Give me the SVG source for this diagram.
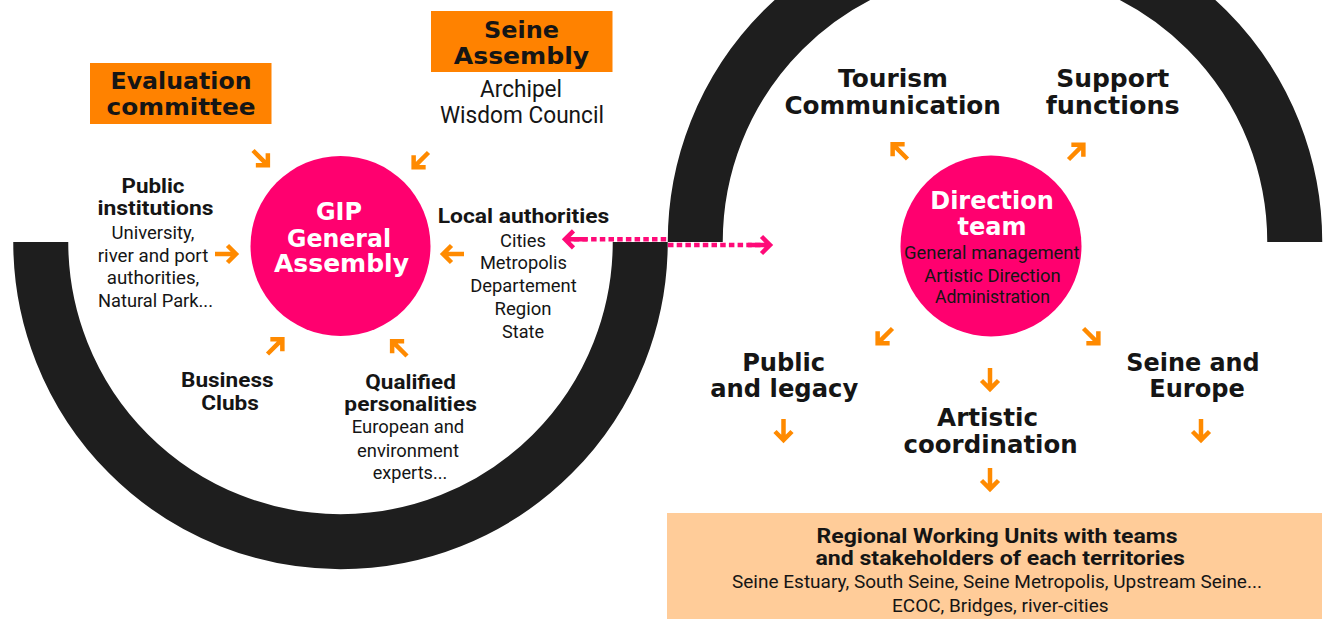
<svg xmlns="http://www.w3.org/2000/svg" xmlns:xlink="http://www.w3.org/1999/xlink" width="1328" height="619" viewBox="0 0 1328 619">
  <style>
    text { text-anchor: middle; fill: #151515; }
    .hw { font-family: "DejaVu Sans", "Liberation Sans", sans-serif; font-weight: 700; font-size: 24px; }
    .hw.big { font-size: 23.5px; }
    .hm { font-family: Roboto, "Liberation Sans", sans-serif; font-weight: 700; font-size: 21px; }
    .rg { font-family: Roboto, "Liberation Sans", sans-serif; font-weight: 400; font-size: 18px; }
    .rg.lg { font-size: 23px; }
    .rg.sm { font-size: 17.5px; }
    .wt { fill: #ffffff; }
    .ring { fill: none; stroke: #1e1e1e; stroke-width: 55; }
    .hub { fill: #ff006f; }
    .tag { fill: #ff8200; }
    .band { fill: #ffcc99; }
    .arrow { fill: none; stroke: #ff8a00; stroke-width: 4.5; stroke-linejoin: miter; }
    .link { fill: none; stroke: #ff0a78; stroke-width: 4.5; stroke-dasharray: 5.5 3.2; }
  </style>
  <defs>
    <!-- short orange arrow pointing to +x, centred on the origin -->
    <path id="arw" class="arrow" d="M-12,0 H8 M0.5,-8.5 L9,0 L0.5,8.5"/>
    <marker id="pinkTip" viewBox="-28 -14 34 28" refX="0" refY="0" markerWidth="34" markerHeight="28" markerUnits="userSpaceOnUse" orient="auto-start-reverse" overflow="visible">
      <path d="M-8.5,-8.5 L0,0 L-8.5,8.5 M0,0 H-22" fill="none" stroke="#ff0a78" stroke-width="4.5"/>
    </marker>
  </defs>

  <rect width="1328" height="619" fill="#ffffff"/>

  <!-- the two half rings -->
  <g id="rings">
    <path class="ring" d="M40.75,242 A299.75,299.75 0 0 0 640.25,242"/>
    <path class="ring" d="M695.25,242 A299.75,299.75 0 0 1 1294.75,242"/>
  </g>

  <!-- governance side -->
  <g id="gip-general-assembly">
    <circle class="hub" cx="340.5" cy="246" r="90"/>
    <text class="hw wt" x="339" y="220" textLength="46" lengthAdjust="spacingAndGlyphs">GIP</text>
    <text class="hw wt" x="339" y="246.5" textLength="104" lengthAdjust="spacingAndGlyphs">General</text>
    <text class="hw wt" x="341.5" y="272" textLength="135" lengthAdjust="spacingAndGlyphs">Assembly</text>
  </g>

  <g id="evaluation-committee">
    <rect class="tag" x="90" y="63" width="181.5" height="61"/>
    <text class="hw big" x="181" y="89" textLength="141" lengthAdjust="spacingAndGlyphs">Evaluation</text>
    <text class="hw big" x="181" y="115" textLength="149" lengthAdjust="spacingAndGlyphs">committee</text>
  </g>

  <g id="seine-assembly">
    <rect class="tag" x="431" y="11" width="181.5" height="61"/>
    <text class="hw big" x="521.5" y="37.5" textLength="75" lengthAdjust="spacingAndGlyphs">Seine</text>
    <text class="hw big" x="521.5" y="63.5" textLength="135.5" lengthAdjust="spacingAndGlyphs">Assembly</text>
    <text class="rg lg" x="521" y="97.3" textLength="82" lengthAdjust="spacingAndGlyphs">Archipel</text>
    <text class="rg lg" x="522" y="123.3" textLength="164" lengthAdjust="spacingAndGlyphs">Wisdom Council</text>
  </g>

  <g id="public-institutions">
    <text class="hm" x="153" y="192.7" textLength="63" lengthAdjust="spacingAndGlyphs">Public</text>
    <text class="hm" x="155.5" y="215" textLength="116" lengthAdjust="spacingAndGlyphs">institutions</text>
    <text class="rg" x="153" y="239" textLength="83" lengthAdjust="spacingAndGlyphs">University,</text>
    <text class="rg" x="153" y="261.5" textLength="110.5" lengthAdjust="spacingAndGlyphs">river and port</text>
    <text class="rg" x="153" y="284" textLength="92.5" lengthAdjust="spacingAndGlyphs">authorities,</text>
    <text class="rg" x="155.5" y="306.7" textLength="115" lengthAdjust="spacingAndGlyphs">Natural Park...</text>
  </g>

  <g id="local-authorities">
    <text class="hm" x="523.5" y="223.3" textLength="171.5" lengthAdjust="spacingAndGlyphs">Local authorities</text>
    <text class="rg" x="523" y="246.7" textLength="46" lengthAdjust="spacingAndGlyphs">Cities</text>
    <text class="rg" x="523.4" y="269.3" textLength="87" lengthAdjust="spacingAndGlyphs">Metropolis</text>
    <text class="rg" x="523.4" y="292" textLength="106.5" lengthAdjust="spacingAndGlyphs">Departement</text>
    <text class="rg" x="523" y="314.5" textLength="57" lengthAdjust="spacingAndGlyphs">Region</text>
    <text class="rg" x="523" y="337.7" textLength="42" lengthAdjust="spacingAndGlyphs">State</text>
  </g>

  <g id="business-clubs">
    <text class="hm" x="227.3" y="387.3" textLength="92.5" lengthAdjust="spacingAndGlyphs">Business</text>
    <text class="hm" x="230" y="410" textLength="57.7" lengthAdjust="spacingAndGlyphs">Clubs</text>
  </g>

  <g id="qualified-personalities">
    <text class="hm" x="410.6" y="389.3" textLength="90.5" lengthAdjust="spacingAndGlyphs">Qualified</text>
    <text class="hm" x="410.6" y="411" textLength="132.5" lengthAdjust="spacingAndGlyphs">personalities</text>
    <text class="rg" x="408" y="433.3" textLength="112.4" lengthAdjust="spacingAndGlyphs">European and</text>
    <text class="rg" x="408" y="456.7" textLength="102" lengthAdjust="spacingAndGlyphs">environment</text>
    <text class="rg" x="410" y="479.3" textLength="74.5" lengthAdjust="spacingAndGlyphs">experts...</text>
  </g>

  <!-- operational side -->
  <g id="direction-team">
    <circle class="hub" cx="991" cy="246" r="90.5"/>
    <text class="hw wt" x="992" y="209.3" textLength="123.5" lengthAdjust="spacingAndGlyphs">Direction</text>
    <text class="hw wt" x="992" y="235" textLength="69" lengthAdjust="spacingAndGlyphs">team</text>
    <text class="rg sm" x="991.8" y="259.3" textLength="175.5" lengthAdjust="spacingAndGlyphs">General management</text>
    <text class="rg sm" x="992.4" y="281.7" textLength="136.3" lengthAdjust="spacingAndGlyphs">Artistic Direction</text>
    <text class="rg sm" x="992.4" y="303.3" textLength="115" lengthAdjust="spacingAndGlyphs">Administration</text>
  </g>

  <g id="tourism-communication">
    <text class="hw" x="893" y="87.3" textLength="110" lengthAdjust="spacingAndGlyphs">Tourism</text>
    <text class="hw" x="892.7" y="114" textLength="216.5" lengthAdjust="spacingAndGlyphs">Communication</text>
  </g>

  <g id="support-functions">
    <text class="hw" x="1112.7" y="87.3" textLength="113" lengthAdjust="spacingAndGlyphs">Support</text>
    <text class="hw" x="1112.7" y="114" textLength="134" lengthAdjust="spacingAndGlyphs">functions</text>
  </g>

  <g id="public-legacy">
    <text class="hw" x="783.7" y="370.7" textLength="83" lengthAdjust="spacingAndGlyphs">Public</text>
    <text class="hw" x="784.2" y="397.3" textLength="148" lengthAdjust="spacingAndGlyphs">and legacy</text>
  </g>

  <g id="artistic-coordination">
    <text class="hw" x="987.6" y="425.7" textLength="101" lengthAdjust="spacingAndGlyphs">Artistic</text>
    <text class="hw" x="990.6" y="452.7" textLength="174" lengthAdjust="spacingAndGlyphs">coordination</text>
  </g>

  <g id="seine-europe">
    <text class="hw" x="1193" y="370.7" textLength="133.4" lengthAdjust="spacingAndGlyphs">Seine and</text>
    <text class="hw" x="1197" y="397.3" textLength="95.5" lengthAdjust="spacingAndGlyphs">Europe</text>
  </g>

  <g id="regional-working-units">
    <rect class="band" x="667" y="513" width="655" height="106"/>
    <text class="hm" x="997" y="543" textLength="361" lengthAdjust="spacingAndGlyphs">Regional Working Units with teams</text>
    <text class="hm" x="1000.2" y="565" textLength="369.4" lengthAdjust="spacingAndGlyphs">and stakeholders of each territories</text>
    <text class="rg sm" x="997" y="588.3" textLength="530" lengthAdjust="spacingAndGlyphs">Seine Estuary, South Seine, Seine Metropolis, Upstream Seine...</text>
    <text class="rg sm" x="1000.3" y="611.7" textLength="216.6" lengthAdjust="spacingAndGlyphs">ECOC, Bridges, river-cities</text>
  </g>

  <g id="connectors">
    <!-- inflows to the General Assembly -->
    <use href="#arw" transform="translate(261.5,159) rotate(45)"/>
    <use href="#arw" transform="translate(420,161) rotate(135)"/>
    <use href="#arw" transform="translate(227,254)"/>
    <use href="#arw" transform="translate(452,254) rotate(180)"/>
    <use href="#arw" transform="translate(276,345.5) rotate(-45)"/>
    <use href="#arw" transform="translate(398.5,347.5) rotate(-135)"/>
    <!-- outflows from the Direction team -->
    <use href="#arw" transform="translate(899,150.5) rotate(-135)"/>
    <use href="#arw" transform="translate(1077,151) rotate(-45)"/>
    <use href="#arw" transform="translate(884,337) rotate(135)"/>
    <use href="#arw" transform="translate(1092,337) rotate(45)"/>
    <use href="#arw" transform="translate(990,380) rotate(90)"/>
    <use href="#arw" transform="translate(783.5,431) rotate(90)"/>
    <use href="#arw" transform="translate(1201,431) rotate(90)"/>
    <use href="#arw" transform="translate(990,480) rotate(90)"/>
    <!-- dotted two-way link between local authorities and the Direction team, stepping down where the rings meet -->
    <path class="link" d="M565,239.3 H668 M668,245 H770" marker-start="url(#pinkTip)" marker-end="url(#pinkTip)"/>
  </g>
</svg>
